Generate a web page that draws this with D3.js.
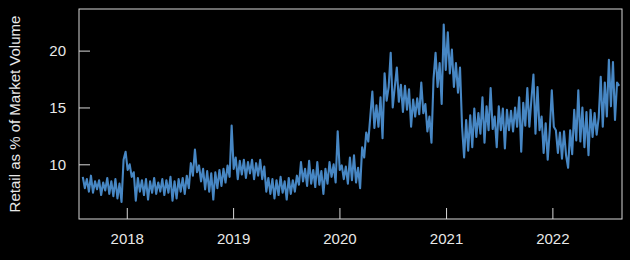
<!DOCTYPE html>
<html>
<head>
<meta charset="utf-8">
<script src="https://cdn.jsdelivr.net/npm/d3@7"></script>
<style>
html,body{margin:0;padding:0;background:#000;}
svg{display:block;}
</style>
</head>
<body>
<svg id="chart" width="630" height="260"></svg>
<script>
// Weekly samples (retail share of market volume, %)
const startDate = "2017-08-03";
const stepDays = 7;
const values = [
  8.9, 7.9, 8.7, 7.6, 9.0, 7.5, 8.5, 7.8, 8.6, 7.3, 8.4, 7.7, 8.8, 7.4, 8.5, 7.2, 8.7, 7.0, 8.3,
  6.7, 10.4, 11.1, 9.5, 10.0, 8.9, 9.3, 6.8,
  8.8, 7.6, 8.6, 7.3, 8.7, 6.9, 8.5, 7.5, 8.8, 7.4, 8.4, 7.6, 8.7, 7.3, 8.6, 7.5, 8.9, 6.8, 8.5, 7.0, 8.7, 7.6, 8.8, 7.4, 9.0,
  7.9, 10.1, 9.0, 11.3, 9.3, 9.9, 8.5, 9.6, 7.8, 9.4, 7.6, 9.2, 6.9, 9.3, 7.9, 9.5, 8.1, 9.6, 8.4, 9.9, 8.9, 13.4, 9.6, 10.6, 8.7, 10.3, 9.1, 10.4, 8.8, 10.2, 9.2, 10.4, 8.7, 10.1, 9.0, 10.4, 8.7, 9.8,
  7.6, 8.8, 7.4, 8.7, 7.0, 8.6, 7.3, 8.9, 7.5, 8.5, 6.9, 8.8, 7.4, 8.6, 7.6, 9.0,
  8.2, 10.2, 8.5,
  9.6, 8.1, 10.3, 8.3, 9.5, 8.0, 10.2, 8.2, 9.4, 7.4, 9.6, 8.3, 10.2, 8.9, 10.0, 8.4, 12.9, 9.5, 9.9, 8.7, 9.8, 8.3, 10.6, 8.6, 10.8, 8.4, 9.7, 7.9,
  11.5, 10.6, 12.8, 12.0, 14.2, 16.4, 13.2, 15.2, 13.3, 15.9, 12.3, 18.0, 15.6, 16.8, 19.8, 15.0, 16.8, 18.5, 15.5, 17.0, 14.6, 16.9, 14.8, 16.6, 13.3, 15.7, 14.2, 15.8, 14.4, 17.2, 14.5, 15.3, 12.9, 14.2, 11.9, 17.5, 19.8, 16.8, 18.9, 15.3, 22.3, 18.3, 21.6, 18.0, 20.1, 16.8, 18.9, 16.3, 18.5, 13.3, 10.6,
  13.9, 11.2, 14.3, 11.5, 14.9, 12.4, 14.5, 12.7, 15.9, 11.9, 15.1, 13.0, 16.7, 13.1, 14.2, 11.5, 15.1, 13.0, 14.9, 11.4, 14.8, 13.0, 14.7, 12.9, 15.0, 13.3, 15.9, 11.1, 15.4, 13.4, 16.7, 13.3, 15.7, 17.9, 12.7, 16.8, 13.0, 14.2, 11.0, 13.6, 10.4, 13.0, 16.5, 13.3, 13.0, 11.0, 12.8, 10.5, 12.9, 10.8, 9.7, 13.0, 10.9, 14.8, 12.1, 16.5, 12.0, 15.0, 11.5, 14.6, 10.8, 14.8, 12.4, 14.5, 12.6, 14.1, 17.7, 13.3, 17.2, 14.2, 19.2, 15.1, 19.0, 13.9, 17.2, 16.9
];
const yTicks = [10, 15, 20];
const xTickYears = [2018, 2019, 2020, 2021, 2022];
const yLabel = "Retail as % of Market Volume";

const parse = d3.utcParse("%Y-%m-%d");
const t0 = parse(startDate);
const data = values.map((v, i) => ({ date: d3.utcDay.offset(t0, i * stepDays), value: v }));

const svg = d3.select("#chart");
const W = 630, H = 260;
const box = { left: 79, right: 622, top: 9, bottom: 219 };

const x = d3.scaleUtc()
  .domain([parse("2017-07-21"), parse("2022-08-28")])
  .range([box.left, box.right]);
const y = d3.scaleLinear()
  .domain([5.19, 23.66])
  .range([box.bottom, box.top]);

svg.append("rect").attr("width", W).attr("height", H).attr("fill", "#000");

const txtColor = "#e8e8e8";
const lineColor = "#d8d8d8";
const fontFam = "'Liberation Sans', Arial, sans-serif";

// data line
svg.append("path")
  .datum(data)
  .attr("fill", "none")
  .attr("stroke", "#4787c4")
  .attr("stroke-width", 2.1)
  .attr("stroke-linejoin", "round")
  .attr("d", d3.line().x(d => x(d.date)).y(d => y(d.value)));

// box
svg.append("rect")
  .attr("x", box.left).attr("y", box.top)
  .attr("width", box.right - box.left).attr("height", box.bottom - box.top)
  .attr("fill", "none").attr("stroke", lineColor).attr("stroke-width", 1);

// y axis
const gy = svg.append("g")
  .attr("transform", `translate(${box.left},0)`)
  .call(d3.axisLeft(y).tickValues(yTicks).tickSize(-11).tickPadding(13).tickFormat(d3.format("d")));
gy.select(".domain").remove();
gy.selectAll(".tick line").attr("stroke", lineColor);
gy.selectAll(".tick text").attr("fill", txtColor).style("font-family", fontFam).style("font-size", "15px");

// x axis
const gx = svg.append("g")
  .attr("transform", `translate(0,${box.bottom})`)
  .call(d3.axisBottom(x)
    .tickValues(xTickYears.map(yr => new Date(Date.UTC(yr, 0, 1))))
    .tickSize(-11).tickPadding(14)
    .tickFormat(d3.utcFormat("%Y")));
gx.select(".domain").remove();
gx.selectAll(".tick line").attr("stroke", lineColor);
gx.selectAll(".tick text").attr("fill", txtColor).style("font-family", fontFam).style("font-size", "15px");

// y label
svg.append("text")
  .attr("transform", `translate(20,${(box.top + box.bottom) / 2}) rotate(-90)`)
  .attr("text-anchor", "middle")
  .attr("fill", txtColor)
  .style("font-family", fontFam)
  .style("font-size", "15px")
  .text(yLabel);
</script>
</body>
</html>
